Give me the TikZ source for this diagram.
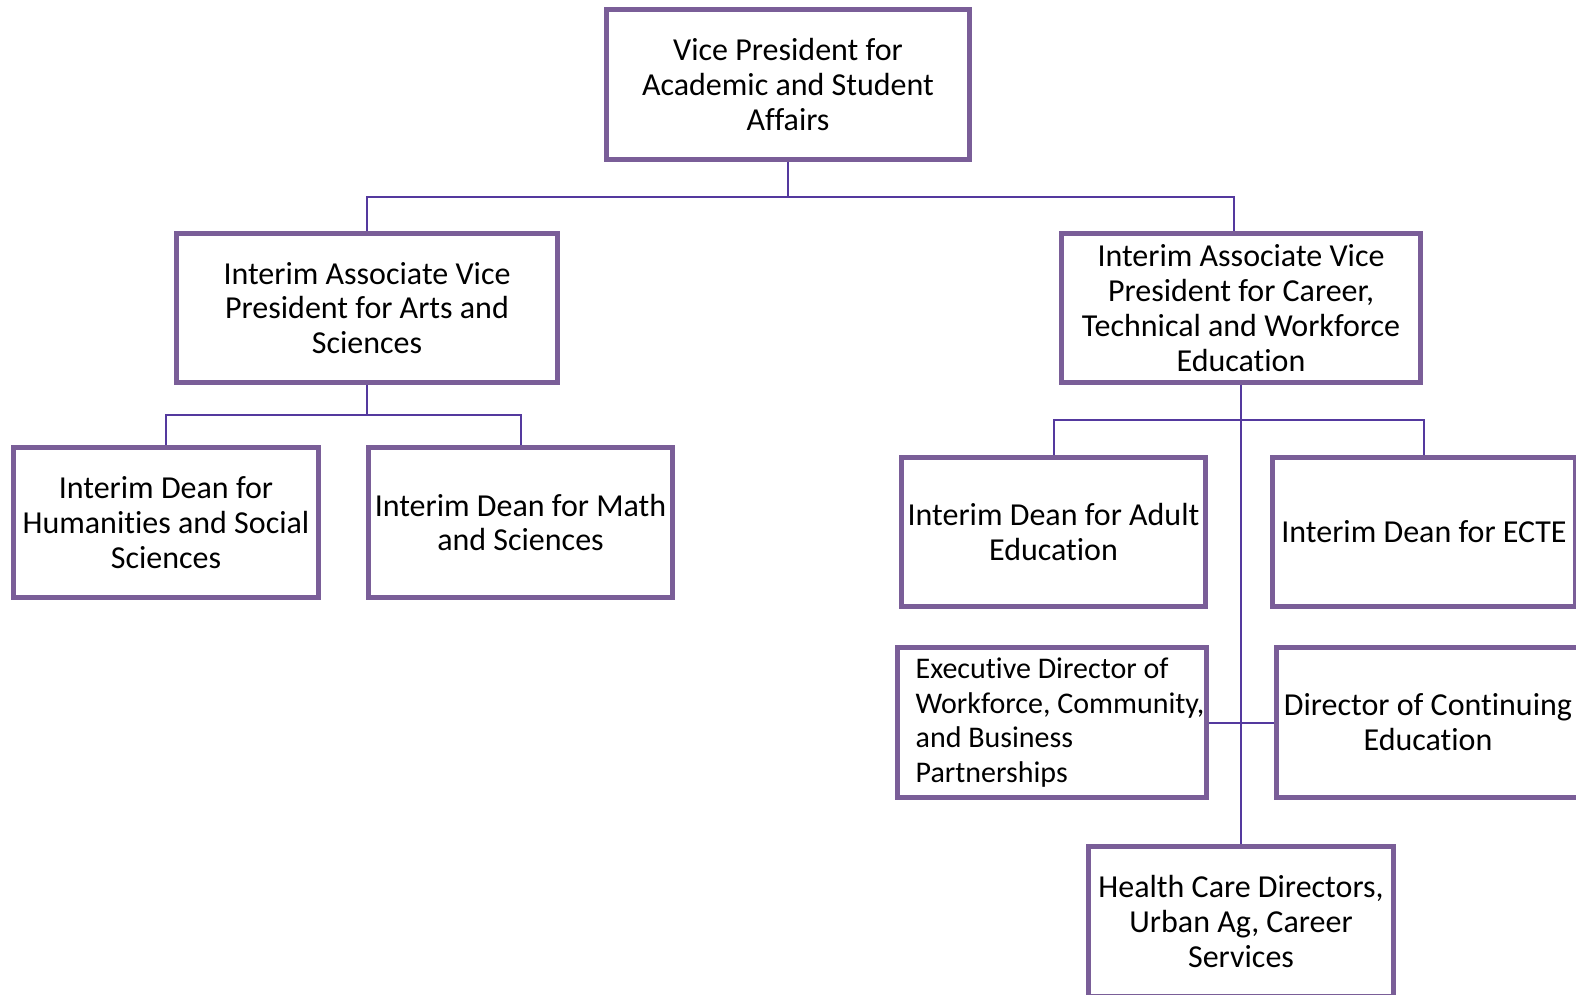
\documentclass[tikz,border=0pt]{standalone}
\usepackage{fontspec}
\setmainfont{Carlito}[Ligatures={NoCommon}]
\definecolor{boxline}{HTML}{7A5E98}
\definecolor{conline}{HTML}{54399E}
\begin{document}
\begin{tikzpicture}[x=1pt,y=-1pt,
  orgbox/.style={draw=boxline,line width=5pt,fill=white,align=center,inner sep=2pt,
    font=\fontsize{32}{34.8}\selectfont,minimum width=305pt,minimum height=150pt},
  conn/.style={draw=conline,line width=2pt}]
\path[use as bounding box] (0,0) rectangle (1576,995);
\clip (0,0) rectangle (1576,995);
\fill[white] (0,0) rectangle (1576,995);
% nodes
\node[orgbox,minimum width=363pt] (top) at (788,84.5) {Vice President for\\Academic and Student\\Affairs};
\node[orgbox,minimum width=381pt,minimum height=149pt] (lavp) at (367,308) {Interim Associate Vice\\President for Arts and\\Sciences};
\node[orgbox,minimum width=359pt,minimum height=149pt] (ravp) at (1241,308) {Interim Associate Vice\\President for Career,\\Technical and Workforce\\Education};
\node[orgbox] (hum) at (166,522.5) {Interim Dean for\\Humanities and Social\\Sciences};
\node[orgbox,minimum width=304pt] (math) at (520.5,522.5) {Interim Dean for Math\\and Sciences};
\node[orgbox,minimum height=149pt,minimum width=304pt] (adult) at (1053.5,532) {Interim Dean for Adult\\Education};
\node[orgbox,minimum height=149pt,minimum width=303pt] (ecte) at (1424,532) {Interim Dean for ECTE};
\node[orgbox,align=left,minimum width=305pt,font=\fontsize{30}{34.8}\selectfont] (exec) at (1052,722.5) {\hspace*{16pt}Executive Director of\\\hspace*{16pt}Workforce, Community,\\\hspace*{16pt}and Business\\\hspace*{16pt}Partnerships};
\node[orgbox,minimum width=303pt] (cont) at (1428,722.5) {Director of Continuing\\Education};
\node[orgbox] (health) at (1241,921.5) {Health Care Directors,\\Urban Ag, Career\\Services};
% connectors
\coordinate (ravptop) at ([xshift=-7pt]ravp.north);
\draw[conn] (top.south) -- ++(0,35) -| (lavp.north);
\draw[conn] (top.south) -- ++(0,35) -| (ravptop);
\draw[conn] (lavp.south) -- ++(0,30) -| (hum.north);
\draw[conn] (lavp.south) -- ++(0,30) -| (math.north);
\draw[conn] (ravp.south) -- ++(0,35) -| (adult.north);
\draw[conn] (ravp.south) -- ++(0,35) -| (ecte.north);
\draw[conn] (ravp.south) -- (health.north);
\draw[conn] (exec.east) -- (cont.west);
\end{tikzpicture}
\end{document}
